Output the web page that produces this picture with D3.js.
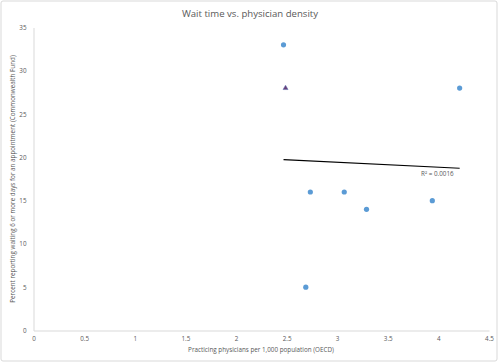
<!DOCTYPE html>
<html>
  <head>
    <meta charset="utf-8" />
    <script src="https://d3js.org/d3.v7.min.js"></script>
    <style>
      body { margin: 0; background: #fff; }
      text { font-family: "Open Sans", "Liberation Sans", sans-serif; fill: #595959; }
    </style>
  </head>
  <body>
    <script>
      // Physicians per 1,000 (OECD) vs percent waiting 6+ days (Commonwealth Fund)
      const physicians = [2.47, 2.69, 2.735, 3.07, 3.29, 3.94, 4.21];
      const waitPct = [33, 5, 16, 16, 14, 15, 28];
      // highlighted point (triangle)
      const highlightX = [2.49];
      const highlightY = [28];
      const xTicks = [0, 0.5, 1, 1.5, 2, 2.5, 3, 3.5, 4, 4.5];
      const yTicks = [0, 5, 10, 15, 20, 25, 30, 35];

      const width = 500, height = 363;
      const svg = d3.select("body").append("svg")
        .attr("width", width).attr("height", height);

      svg.append("rect")
        .attr("x", 1).attr("y", 1)
        .attr("width", 496).attr("height", 360)
        .attr("fill", "#fff").attr("stroke", "#d9d9d9").attr("rx", 2);

      const x = d3.scaleLinear().domain([0, 4.5]).range([33.5, 489]);
      const y = d3.scaleLinear().domain([0, 35]).range([330.5, 27.5]);

      // axes
      const xAxis = svg.append("g")
        .attr("transform", `translate(0,${y(0)})`)
        .call(d3.axisBottom(x).tickValues(xTicks).tickSize(0).tickPadding(6)
          .tickFormat(d3.format("")));
      xAxis.select(".domain").attr("stroke", "#d9d9d9");
      xAxis.selectAll("text").attr("font-size", 6.3).attr("fill", "#595959");

      const yAxis = svg.append("g")
        .attr("transform", `translate(${x(0)},0)`)
        .call(d3.axisLeft(y).tickValues(yTicks).tickSize(0).tickPadding(7));
      yAxis.select(".domain").attr("stroke", "#d9d9d9");
      yAxis.selectAll("text").attr("font-size", 6.3).attr("fill", "#595959");

      // title + axis titles
      svg.append("text")
        .attr("x", 250).attr("y", 17)
        .attr("text-anchor", "middle")
        .attr("font-size", 9.6)
        .text("Wait time vs. physician density");

      svg.append("text")
        .attr("x", 261).attr("y", 352)
        .attr("text-anchor", "middle")
        .attr("font-size", 6.3)
        .text("Practicing physicians per 1,000 population (OECD)");

      svg.append("text")
        .attr("transform", `translate(14.5,${y(17.5)}) rotate(-90)`)
        .attr("text-anchor", "middle")
        .attr("font-size", 6.3)
        .text("Percent reporting waiting 6 or more days for an appointment (Commonwealth Fund)");

      // linear trendline over all points
      const allX = physicians.concat(highlightX);
      const allY = waitPct.concat(highlightY);
      const mx = d3.mean(allX), my = d3.mean(allY);
      const sxy = d3.sum(allX, (v, i) => (v - mx) * (allY[i] - my));
      const sxx = d3.sum(allX, v => (v - mx) * (v - mx));
      const slope = sxy / sxx, intercept = my - slope * mx;
      const [x0, x1] = d3.extent(allX);
      svg.append("line")
        .attr("x1", x(x0)).attr("y1", y(intercept + slope * x0))
        .attr("x2", x(x1)).attr("y2", y(intercept + slope * x1))
        .attr("stroke", "#000").attr("stroke-width", 1.1);

      svg.append("text")
        .attr("x", 421).attr("y", 176)
        .attr("font-size", 6.3)
        .text("R² = 0.0016");

      // points
      svg.selectAll("circle.pt")
        .data(physicians)
        .join("circle")
        .attr("class", "pt")
        .attr("cx", d => x(d))
        .attr("cy", (d, i) => y(waitPct[i]))
        .attr("r", 2.6)
        .attr("fill", "#5b9bd5");

      svg.selectAll("path.hl")
        .data(highlightX)
        .join("path")
        .attr("class", "hl")
        .attr("d", d3.symbol(d3.symbolTriangle, 11))
        .attr("transform", (d, i) => `translate(${x(d)},${y(highlightY[i])})`)
        .attr("fill", "#6a3f78")
        .attr("stroke", "#5b6fb0").attr("stroke-width", 0.5);
    </script>
  </body>
</html>
